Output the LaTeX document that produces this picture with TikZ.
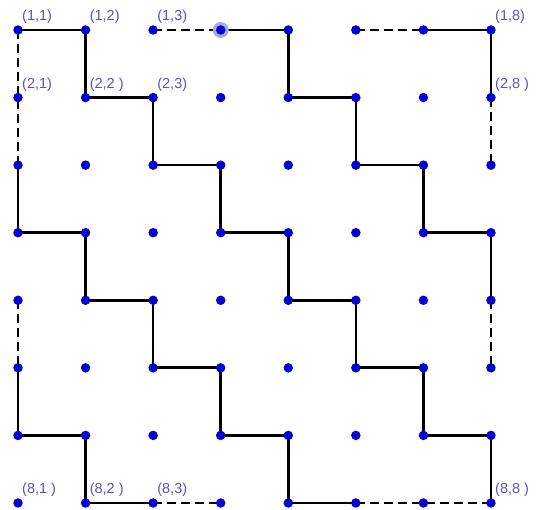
\documentclass[tikz,border=0pt]{standalone}
\usepackage{fontspec}
\setmainfont{Liberation Sans}
\usetikzlibrary{backgrounds}
\definecolor{dotblue}{RGB}{0,0,210}
\definecolor{lblblue}{RGB}{85,85,190}
\definecolor{halo}{RGB}{170,170,235}
\begin{document}
\begin{tikzpicture}[x=1pt,y=-1pt,
  dot/.style={circle,fill=dotblue,inner sep=0pt,minimum size=9.5pt},
  edge/.style={line width=2.7pt,black},
  dashedge/.style={edge,dash pattern=on 9pt off 5pt},
  lbl/.style={text=lblblue,font=\fontsize{14.5}{14.5}\selectfont,anchor=west,inner sep=0pt}]
\useasboundingbox (0,0) rectangle (542,510);
\foreach \r in {1,...,8}{\foreach \c in {1,...,8}{
  \node[dot] (p\r\c) at ({18+(\c-1)*67.57},{30+(\r-1)*67.57}) {};
}}
\begin{scope}[on background layer]
\foreach \a/\b in {11/12,12/22,22/23,23/33,33/34,34/44,44/45,45/55,55/56,56/66,66/67,67/77,77/78,78/88,
  14/15,15/25,25/26,26/36,36/37,37/47,47/48,48/58,17/18,18/28,
  31/41,41/42,42/52,52/53,53/63,63/64,64/74,74/75,75/85,85/86,
  61/71,71/72,72/82,82/83}
  \draw[edge] (p\a.center) -- (p\b.center);
\foreach \a/\b in {11/31,13/14,16/17,28/38,58/68,51/61,83/84,86/88}
  \draw[dashedge] (p\a.center) -- (p\b.center);
\fill[halo] (p14.center) circle (8);
\end{scope}
\foreach \n/\t in {11/{(1,1)},12/{(1,2)},13/{(1,3)},21/{(2,1)},22/{(2,2 )},23/{(2,3)},18/{(1,8)},28/{(2,8 )},81/{(8,1 )},82/{(8,2 )},83/{(8,3)},88/{(8,8 )}}
  \node[lbl] (l\n) at ([shift={(4,-13)}]p\n.center) {\t};
\end{tikzpicture}
\end{document}
